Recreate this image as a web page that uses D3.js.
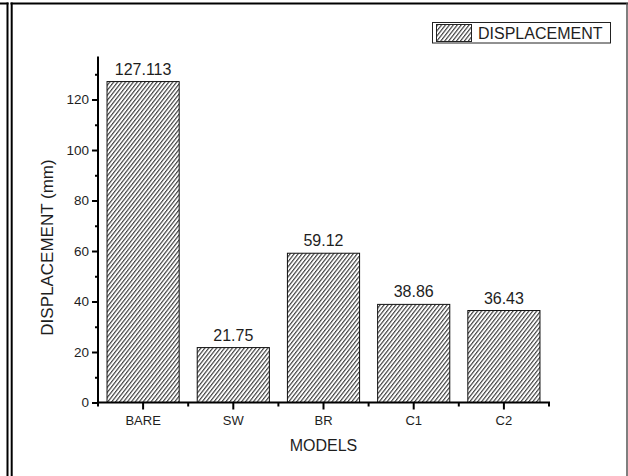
<!DOCTYPE html>
<html><head><meta charset="utf-8">
<script src="https://cdn.jsdelivr.net/npm/d3@7"></script>
<style>body{margin:0;background:#fff}svg{display:block;font-family:"Liberation Sans",Arial,sans-serif}
.tk text{font-size:13.5px !important;fill:#1e1e1e;font-family:"Liberation Sans",Arial,sans-serif}
.tkx text{font-size:13px !important;fill:#1e1e1e;font-family:"Liberation Sans",Arial,sans-serif}</style>
</head><body>
<svg id="c" width="628" height="476"></svg>
<script>
const categories = ["BARE", "SW", "BR", "C1", "C2"];
const values = [127.113, 21.75, 59.12, 38.86, 36.43];
const valueLabels = ["127.113", "21.75", "59.12", "38.86", "36.43"];
const yTicks = [0, 20, 40, 60, 80, 100, 120];
const yMinorTicks = [10, 30, 50, 70, 90, 110, 130];
const seriesName = "DISPLACEMENT";

const svg = d3.select("#c");
const txt = "#1e1e1e";

// hatch pattern
const defs = svg.append("defs");
const pw = 3.1;
const pat = defs.append("pattern").attr("id","hatch").attr("patternUnits","userSpaceOnUse")
  .attr("width",pw).attr("height",pw).attr("patternTransform","rotate(38)");
pat.append("rect").attr("width",pw).attr("height",pw).attr("fill","#fff");
pat.append("line").attr("x1",0.6).attr("y1",0).attr("x2",0.6).attr("y2",pw)
  .attr("stroke","#333").attr("stroke-width",1.1);

// frame lines
svg.append("line").attr("x1",0).attr("x2",8.5).attr("y1",3.5).attr("y2",3.5).attr("stroke","#000").attr("stroke-width",2);
svg.append("line").attr("x1",7.5).attr("x2",7.5).attr("y1",2.5).attr("y2",476).attr("stroke","#000").attr("stroke-width",2);
svg.append("line").attr("x1",10.5).attr("x2",628).attr("y1",3.5).attr("y2",3.5).attr("stroke","#000").attr("stroke-width",2);
svg.append("line").attr("x1",11.7).attr("x2",11.7).attr("y1",2.5).attr("y2",476).attr("stroke","#000").attr("stroke-width",2);
svg.append("line").attr("x1",627).attr("x2",627).attr("y1",3).attr("y2",476).attr("stroke","#555").attr("stroke-width",1.5);

const x = d3.scaleBand().domain(categories).range([98, 549]).paddingInner(0.2).paddingOuter(0.1);
const y = d3.scaleLinear().domain([0, 137]).range([402.5, 56.6]);

// bars
svg.append("g").selectAll("rect").data(values).join("rect")
  .attr("x",(d,i)=>x(categories[i]))
  .attr("y",d=>y(d))
  .attr("width",x.bandwidth())
  .attr("height",d=>y(0)-y(d))
  .attr("fill","url(#hatch)").attr("stroke","#111").attr("stroke-width",1);

// value labels
svg.append("g").selectAll("text").data(values).join("text")
  .attr("x",(d,i)=>x(categories[i])+x.bandwidth()/2)
  .attr("y",d=>y(d)-7)
  .attr("text-anchor","middle").style("font-size","16px").attr("fill",txt)
  .text((d,i)=>valueLabels[i]);

// y axis
const yAxis = svg.append("g").attr("class","tk").attr("transform","translate(98,0)")
  .call(d3.axisLeft(y).tickValues(yTicks).tickSize(6).tickPadding(3).tickFormat(d3.format("d")));
yAxis.attr("font-size",null).attr("font-family",null);
yAxis.select(".domain").attr("stroke","#000").attr("stroke-width",2).attr("d",`M0,${y(0)+1}V${y(137)}`);
yAxis.selectAll(".tick line").attr("stroke","#000").attr("stroke-width",2);
const yMinor = svg.append("g").attr("transform","translate(98,0)")
  .call(d3.axisLeft(y).tickValues(yMinorTicks).tickSize(3).tickFormat(""));
yMinor.select(".domain").remove();
yMinor.selectAll(".tick line").attr("stroke","#000").attr("stroke-width",2);

// x axis
const xAxis = svg.append("g").attr("class","tkx").attr("transform",`translate(0,${y(0)})`)
  .call(d3.axisBottom(x).tickSize(7).tickPadding(6));
xAxis.attr("font-size",null).attr("font-family",null);
xAxis.select(".domain").attr("stroke","#000").attr("stroke-width",2).attr("d","M97,0H550");
xAxis.selectAll(".tick line").attr("stroke","#000").attr("stroke-width",2);
// boundary minor ticks
const bounds = categories.map(c=>x(c)-x.step()*x.paddingInner()/2).concat([549]);
svg.append("g").selectAll("line").data(bounds).join("line")
  .attr("x1",d=>d).attr("x2",d=>d).attr("y1",y(0)).attr("y2",y(0)+4)
  .attr("stroke","#000").attr("stroke-width",2);

// axis titles
svg.append("text").attr("x",323.5).attr("y",451).attr("text-anchor","middle")
  .style("font-size","16px").attr("fill",txt).text("MODELS");
svg.append("text").attr("transform","translate(53,247.5) rotate(-90)").attr("text-anchor","middle")
  .style("font-size","17px").attr("fill",txt).text("DISPLACEMENT (mm)");

// legend
const lg = svg.append("g");
lg.append("rect").attr("x",432.5).attr("y",22.5).attr("width",178).attr("height",20.5)
  .attr("fill","#fff").attr("stroke","#222").attr("stroke-width",1);
lg.append("rect").attr("x",436.5).attr("y",24.5).attr("width",35).attr("height",17)
  .attr("fill","url(#hatch)").attr("stroke","#222").attr("stroke-width",1);
lg.append("text").attr("x",478).attr("y",39).style("font-size","16px").attr("fill",txt).text(seriesName);
</script>
</body></html>
